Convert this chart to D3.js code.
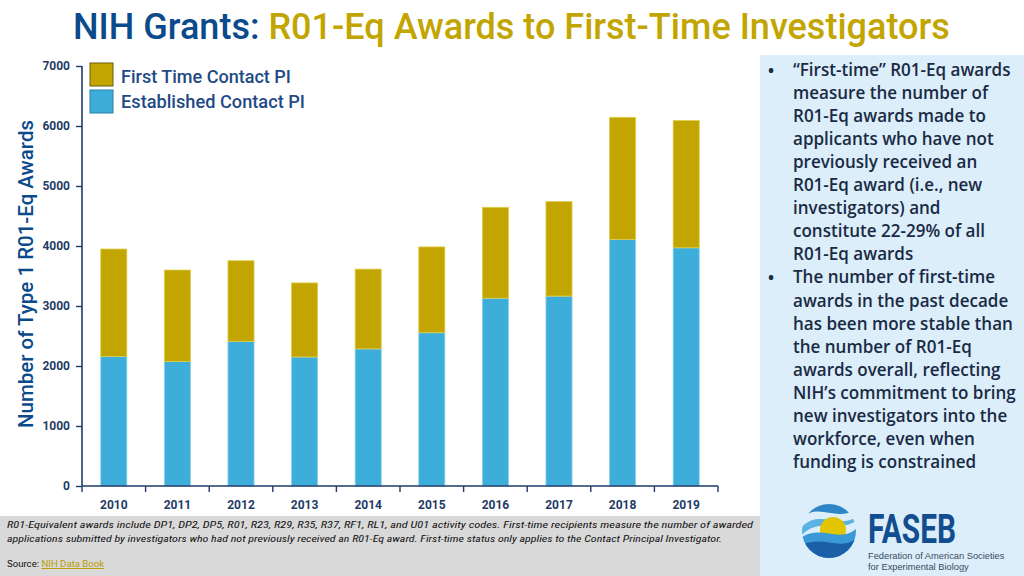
<!DOCTYPE html>
<html>
<head>
<meta charset="utf-8">
<script src="https://cdn.jsdelivr.net/npm/d3@7"></script>
<style>
  html, body { margin: 0; padding: 0; background: #ffffff; }
  svg { display: block; }
</style>
</head>
<body>
<svg id="chart" width="1024" height="576"></svg>
<script>
// ---------------- data ----------------
const years = ["2010","2011","2012","2013","2014","2015","2016","2017","2018","2019"];
const established = [2160, 2075, 2410, 2150, 2285, 2555, 3130, 3165, 4110, 3970];
const firstTime   = [1790, 1525, 1345, 1235, 1330, 1430, 1515, 1575, 2035, 2120];
const yTicks = [0, 1000, 2000, 3000, 4000, 5000, 6000, 7000];
const seriesNames = ["First Time Contact PI", "Established Contact PI"];
const bulletText = [
  ["\u201CFirst-time\u201D R01-Eq awards", "measure the number of", "R01-Eq awards made to",
   "applicants who have not", "previously received an", "R01-Eq award (i.e., new",
   "investigators) and", "constitute 22-29% of all", "R01-Eq awards"],
  ["The number of first-time", "awards in the past decade", "has been more stable than",
   "the number of R01-Eq", "awards overall, reflecting", "NIH\u2019s commitment to bring",
   "new investigators into the", "workforce, even when", "funding is constrained"]
];
const footnoteLines = [
  "R01-Equivalent awards include DP1, DP2, DP5, R01, R23, R29, R35, R37, RF1, RL1, and U01 activity codes. First-time recipients measure the number of awarded",
  "applications submitted by investigators who had not previously received an R01-Eq award. First-time status only applies to the Contact Principal Investigator."
];

// ---------------- styles ----------------
const NAVY = "#1f3b66";
const TITLE_BLUE = "#0b4a8b";
const GOLD = "#c2a500";
const BLUE = "#3dadda";
const PANEL_TEXT = "#1a2a45";
const FONT = "Roboto, 'Open Sans', 'Liberation Sans', sans-serif";

const svg = d3.select("#chart");

function fit(sel, target) {
  const n = sel.node();
  const fs = parseFloat(sel.attr("font-size"));
  const w = n.getComputedTextLength();
  if (w > 0) sel.attr("font-size", (fs * target / w).toFixed(2));
  return sel;
}

// ---------------- backgrounds ----------------
svg.append("rect").attr("x", 760).attr("y", 55).attr("width", 264).attr("height", 521).attr("fill", "#dbeef9");
svg.append("rect").attr("x", 0).attr("y", 516).attr("width", 760).attr("height", 60).attr("fill", "#d9d9d9");

// ---------------- title ----------------
const title = svg.append("text").attr("x", 73).attr("y", 39)
  .attr("font-family", FONT).attr("font-size", 34).attr("font-weight", 500);
title.append("tspan").attr("fill", TITLE_BLUE).text("NIH Grants: ");
title.append("tspan").attr("fill", GOLD).text("R01-Eq Awards to First-Time Investigators");
fit(title, 877);

// ---------------- scales ----------------
const margin = { left: 82, right: 718, top: 66, bottom: 486 };
const x = d3.scaleBand().domain(years).range([margin.left, margin.right]).paddingInner(0.59).paddingOuter(0.295);
const y = d3.scaleLinear().domain([0, 7000]).range([margin.bottom, margin.top]);

// stacked data
const rows = years.map((yr, i) => ({ year: yr, established: established[i], firstTime: firstTime[i] }));
const stack = d3.stack().keys(["established", "firstTime"])(rows);
const colors = { established: BLUE, firstTime: GOLD };
const edge = { established: "#8ccfee", firstTime: "#e0cf4a" };

const gBars = svg.append("g");
stack.forEach(layer => {
  gBars.selectAll(null).data(layer).join("rect")
    .attr("x", d => x(d.data.year))
    .attr("width", x.bandwidth())
    .attr("y", d => y(d[1]))
    .attr("height", d => y(d[0]) - y(d[1]))
    .attr("fill", colors[layer.key])
    .attr("stroke", edge[layer.key])
    .attr("stroke-width", 0.8);
});

// ---------------- axes ----------------
const yAxis = svg.append("g").attr("transform", `translate(${margin.left},0)`)
  .call(d3.axisLeft(y).tickValues(yTicks).tickSize(6).tickPadding(6).tickFormat(d3.format("d")));
yAxis.select(".domain").attr("stroke", NAVY).attr("stroke-width", 1.6).attr("d", `M0,${margin.top}V${margin.bottom}`);
yAxis.selectAll(".tick line").attr("stroke", NAVY).attr("stroke-width", 1.4);
yAxis.selectAll(".tick text").attr("fill", NAVY).attr("font-family", FONT)
  .attr("font-size", 12).attr("font-weight", 700);

const xAxis = svg.append("g").attr("transform", `translate(0,${margin.bottom})`)
  .call(d3.axisBottom(x).tickSize(0).tickPadding(14));
xAxis.select(".domain").attr("stroke", NAVY).attr("stroke-width", 1.6)
  .attr("d", `M${margin.left},0H${margin.right}`);
xAxis.selectAll(".tick text").attr("fill", NAVY).attr("font-family", FONT)
  .attr("font-size", 12).attr("font-weight", 700);
// boundary ticks between categories
const bounds = d3.range(years.length + 1).map(i => margin.left + i * (margin.right - margin.left) / years.length);
xAxis.selectAll("line.bound").data(bounds).join("line").attr("class", "bound")
  .attr("x1", d => d).attr("x2", d => d).attr("y1", 0).attr("y2", 6)
  .attr("stroke", NAVY).attr("stroke-width", 1.4);

// y axis title
const yTitle = svg.append("text")
  .attr("transform", `translate(33,274) rotate(-90)`)
  .attr("text-anchor", "middle")
  .attr("font-family", FONT).attr("font-size", 18).attr("font-weight", 500)
  .attr("fill", TITLE_BLUE).text("Number of Type 1 R01-Eq Awards");
fit(yTitle, 308);

// ---------------- legend ----------------
const legendColors = [GOLD, BLUE];
const lg = svg.append("g");
seriesNames.forEach((name, i) => {
  lg.append("rect").attr("x", 90).attr("y", 63 + i * 27).attr("width", 23).attr("height", 23)
    .attr("fill", legendColors[i]).attr("stroke", i === 0 ? "#6b5d10" : "#2b7fa8").attr("stroke-width", 1);
  const t = lg.append("text").attr("x", 121).attr("y", 83 + i * 25)
    .attr("font-family", FONT).attr("font-size", 16).attr("font-weight", 500)
    .attr("fill", "#1f4a86").text(name);
  if (i === 0) fit(t, 170); else fit(t, 184);
});

// ---------------- right panel text ----------------
const PFONT = "'Open Sans', Roboto, sans-serif";
const probe = svg.append("text").attr("font-family", PFONT).attr("font-size", 16).attr("font-weight", 600)
  .text("has been more stable than");
fit(probe, 220);
const pfs = probe.attr("font-size");
probe.remove();

const panel = svg.append("g");
let lineY = 76;
const lh = 23.05;
bulletText.forEach(lines => {
  panel.append("text").attr("x", 768).attr("y", lineY).attr("font-family", PFONT)
    .attr("font-size", 16).attr("font-weight", 700).attr("fill", PANEL_TEXT).text("\u2022");
  lines.forEach(l => {
    panel.append("text").attr("x", 793).attr("y", lineY)
      .attr("font-family", PFONT).attr("font-size", pfs).attr("font-weight", 600)
      .attr("fill", PANEL_TEXT).text(l);
    lineY += lh;
  });
});

// ---------------- footnote ----------------
const foot = svg.append("g");
footnoteLines.forEach((l, i) => {
  foot.append("text").attr("x", 7).attr("y", 528 + i * 14)
    .attr("font-family", "'Liberation Sans Narrow', 'Roboto Condensed', Roboto, sans-serif")
    .attr("font-size", 9.6).attr("font-style", "italic").attr("fill", "#111")
    .attr("textLength", i === 0 ? 746 : 715).attr("lengthAdjust", "spacingAndGlyphs")
    .text(l);
});
const src = foot.append("text").attr("x", 7).attr("y", 567)
  .attr("font-family", "'Liberation Sans Narrow', Roboto, sans-serif")
  .attr("font-size", 9.6).attr("fill", "#111");
src.append("tspan").text("Source: ");
src.append("tspan").attr("fill", "#b89c00").attr("text-decoration", "underline").text("NIH Data Book");

// ---------------- logo ----------------
const logo = svg.append("g");
const cx = 829, cy = 531, r = 27;
const defs = svg.append("defs");
defs.append("clipPath").attr("id", "globe").append("circle").attr("cx", cx).attr("cy", cy).attr("r", r);
const lgG = logo.append("g").attr("clip-path", "url(#globe)");
lgG.append("rect").attr("x", cx - r).attr("y", cy - r).attr("width", 2 * r).attr("height", 2 * r).attr("fill", "#dbeef9");
lgG.append("path").attr("d", `M${cx - r},${cy - 12} C${cx - 12},${cy - 30} ${cx + 8},${cy - 8} ${cx + r},${cy - 22} L${cx + r},${cy - r} L${cx - r},${cy - r} Z`).attr("fill", "#2e86c8");
lgG.append("path").attr("d", `M${cx - r},${cy - 4} C${cx - 10},${cy - 22} ${cx + 10},${cy - 2} ${cx + r},${cy - 14} L${cx + r},${cy - 10} C${cx + 8},${cy + 2} ${cx - 10},${cy - 14} ${cx - r},${cy + 4} Z`).attr("fill", "#5bb3e3");
lgG.append("circle").attr("cx", cx + 4).attr("cy", cy - 1).attr("r", 13).attr("fill", "#e3c400");
lgG.append("path").attr("d", `M${cx - r},${cy + 6} C${cx - 8},${cy - 6} ${cx + 10},${cy + 12} ${cx + r},${cy - 2} L${cx + r},${cy + r} L${cx - r},${cy + r} Z`).attr("fill", "#3a9ad8");
lgG.append("path").attr("d", `M${cx - r},${cy + 14} C${cx - 6},${cy + 4} ${cx + 10},${cy + 20} ${cx + r},${cy + 8} L${cx + r},${cy + r} L${cx - r},${cy + r} Z`).attr("fill", "#1b5fa8");
logo.append("text").attr("x", 868).attr("y", 543).attr("font-family", FONT)
  .attr("font-size", 40).attr("font-weight", 700).attr("fill", "#124d8f")
  .attr("textLength", 88).attr("lengthAdjust", "spacingAndGlyphs").text("FASEB");
logo.append("text").attr("x", 868).attr("y", 559).attr("font-family", "'Liberation Sans', sans-serif")
  .attr("font-size", 9.3).attr("fill", "#3a4a5e").text("Federation of American Societies");
logo.append("text").attr("x", 868).attr("y", 570).attr("font-family", "'Liberation Sans', sans-serif")
  .attr("font-size", 9.3).attr("fill", "#3a4a5e").text("for Experimental Biology");
</script>
</body>
</html>
